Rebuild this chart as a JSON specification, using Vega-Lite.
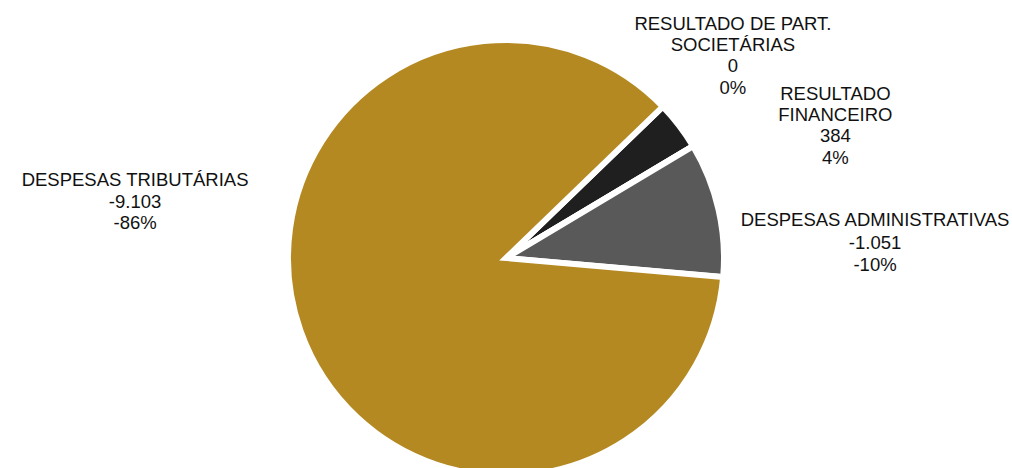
{
  "$schema": "https://vega.github.io/schema/vega-lite/v6.json",
  "autosize": "none",
  "width": 1012,
  "height": 420,
  "padding": {"top": 48, "left": 0, "right": 0, "bottom": 0},
  "background": "white",
  "config": {"view": {"stroke": null}},
  "data": {
    "values": [
      {"key": "fin", "valor": 384, "ord": 1, "label": ["RESULTADO", "FINANCEIRO", "384", "4%"]},
      {"key": "part", "valor": 0, "ord": 2, "label": ["RESULTADO DE PART.", "SOCIETÁRIAS", "0", "0%"]},
      {"key": "adm", "valor": -1051, "ord": 3, "label": ["DESPESAS ADMINISTRATIVAS", "-1.051", "-10%"]},
      {"key": "trib", "valor": -9103, "ord": 4, "label": ["DESPESAS TRIBUTÁRIAS", "-9.103", "-86%"]}
    ]
  },
  "transform": [{"calculate": "abs(datum.valor)", "as": "magnitude"}],
  "encoding": {
    "theta": {"field": "magnitude", "type": "quantitative", "stack": true, "scale": {"range": [0.803, 7.086]}},
    "order": {"field": "ord", "type": "ordinal"}
  },
  "layer": [
    {
      "mark": {"type": "arc", "outerRadius": 218, "stroke": "white", "strokeWidth": 6},
      "encoding": {
        "color": {"field": "key", "type": "nominal", "legend": null,
          "scale": {"domain": ["fin", "part", "adm", "trib"], "range": ["#1f1f1f", "#7f7f7f", "#595959", "#b48922"]}}
      }
    },
    {
      "mark": {"type": "text", "radius": 379, "thetaOffset": 0.547, "font": "Liberation Sans", "fontSize": 18.5, "lineHeight": 21.5, "baseline": "middle", "align": "center", "color": "#111111"},
      "encoding": {"text": {"condition": {"test": "datum.key === 'trib'", "field": "label"}, "value": ""}}
    },
    {
      "mark": {"type": "text", "radius": 326, "thetaOffset": -0.262, "font": "Liberation Sans", "fontSize": 18.5, "lineHeight": 21.2, "baseline": "middle", "align": "center", "color": "#111111"},
      "encoding": {"text": {"condition": {"test": "datum.key === 'part'", "field": "label"}, "value": ""}}
    },
    {
      "mark": {"type": "text", "radius": 368, "thetaOffset": 0.191, "font": "Liberation Sans", "fontSize": 18.5, "lineHeight": 21.3, "baseline": "middle", "align": "center", "color": "#111111"},
      "encoding": {"text": {"condition": {"test": "datum.key === 'fin'", "field": "label"}, "value": ""}}
    },
    {
      "mark": {"type": "text", "radius": 371, "thetaOffset": 0.123, "font": "Liberation Sans", "fontSize": 18.5, "lineHeight": 22.5, "baseline": "middle", "align": "center", "color": "#111111"},
      "encoding": {"text": {"condition": {"test": "datum.key === 'adm'", "field": "label"}, "value": ""}}
    }
  ]
}
